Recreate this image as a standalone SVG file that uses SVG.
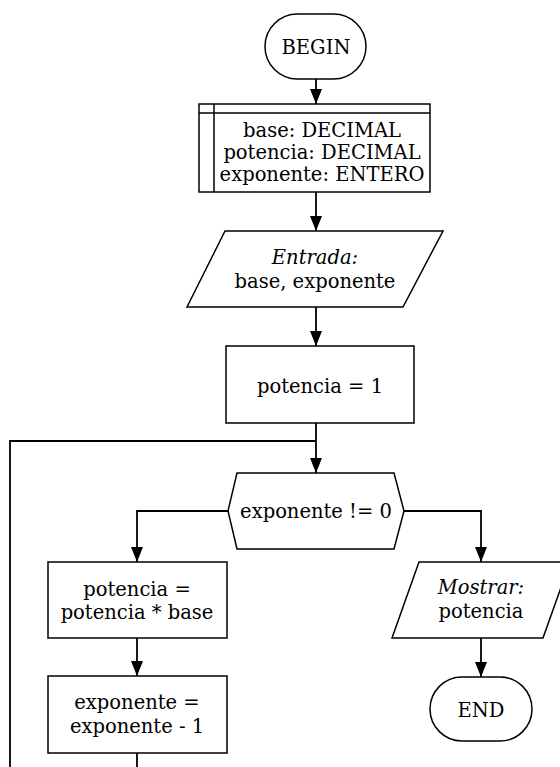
<svg xmlns="http://www.w3.org/2000/svg" width="560" height="767" viewBox="0 0 560 767">
  <defs>
    <marker id="arrow" markerWidth="15" markerHeight="12" refX="15" refY="6" orient="auto" markerUnits="userSpaceOnUse" viewBox="0 0 15 12">
      <path d="M0,0 L15,6 L0,12 Z" fill="#000"/>
    </marker>
  </defs>
  <style>
    .shape { fill: #fff; stroke: #000; stroke-width: 1.5; }
    .edge { fill: none; stroke: #000; stroke-width: 1.8; }
    text { font-family: "DejaVu Serif", "Liberation Serif", serif; font-size: 19.5px; fill: #000; text-anchor: middle; }
    .it { font-style: italic; }
  </style>
  <rect width="560" height="767" fill="#fff"/>

  <g id="connectors">
    <path class="edge" d="M316,79 V104" marker-end="url(#arrow)"/>
    <path class="edge" d="M316,192 V231" marker-end="url(#arrow)"/>
    <path class="edge" d="M316,307 V346" marker-end="url(#arrow)"/>
    <path class="edge" d="M316,423 V473" marker-end="url(#arrow)"/>
    <path class="edge" d="M228,511 H137 V562" marker-end="url(#arrow)"/>
    <path class="edge" d="M404,511 H481 V562" marker-end="url(#arrow)"/>
    <path class="edge" d="M137,638 V676" marker-end="url(#arrow)"/>
    <path class="edge" d="M481,638 V677" marker-end="url(#arrow)"/>
    <path class="edge" d="M137,753 V785 H10 V441 H316"/>
  </g>

  <g id="begin">
    <rect class="shape" x="265" y="14" width="101" height="65" rx="32.5"/>
    <text x="316" y="54">BEGIN</text>
  </g>

  <g id="declaraciones">
    <rect class="shape" x="199" y="104" width="231" height="88"/>
    <line class="shape" x1="199" y1="113" x2="430" y2="113"/>
    <line class="shape" x1="214" y1="104" x2="214" y2="192"/>
    <text x="322" y="137">base: DECIMAL</text>
    <text x="322" y="159">potencia: DECIMAL</text>
    <text x="322" y="181">exponente: ENTERO</text>
  </g>

  <g id="entrada">
    <polygon class="shape" points="225,231 443,231 403,307 187,307"/>
    <text class="it" x="315" y="264">Entrada:</text>
    <text x="315" y="288">base, exponente</text>
  </g>

  <g id="init">
    <rect class="shape" x="226" y="346" width="188" height="77"/>
    <text x="320" y="393">potencia = 1</text>
  </g>

  <g id="condicion">
    <polygon class="shape" points="237,473 394,473 404,511 394,549 237,549 228,511"/>
    <text x="316" y="518">exponente != 0</text>
  </g>

  <g id="multiplica">
    <rect class="shape" x="48" y="562" width="179" height="76"/>
    <text x="137" y="596">potencia =</text>
    <text x="137" y="619">potencia * base</text>
  </g>

  <g id="decrementa">
    <rect class="shape" x="48" y="676" width="179" height="77"/>
    <text x="137" y="709">exponente =</text>
    <text x="137" y="733">exponente - 1</text>
  </g>

  <g id="mostrar">
    <polygon class="shape" points="419,562 570,562 543,638 392,638"/>
    <text class="it" x="481" y="594">Mostrar:</text>
    <text x="481" y="618">potencia</text>
  </g>

  <g id="end">
    <rect class="shape" x="430" y="677" width="102" height="64" rx="32"/>
    <text x="481" y="717">END</text>
  </g>
</svg>
